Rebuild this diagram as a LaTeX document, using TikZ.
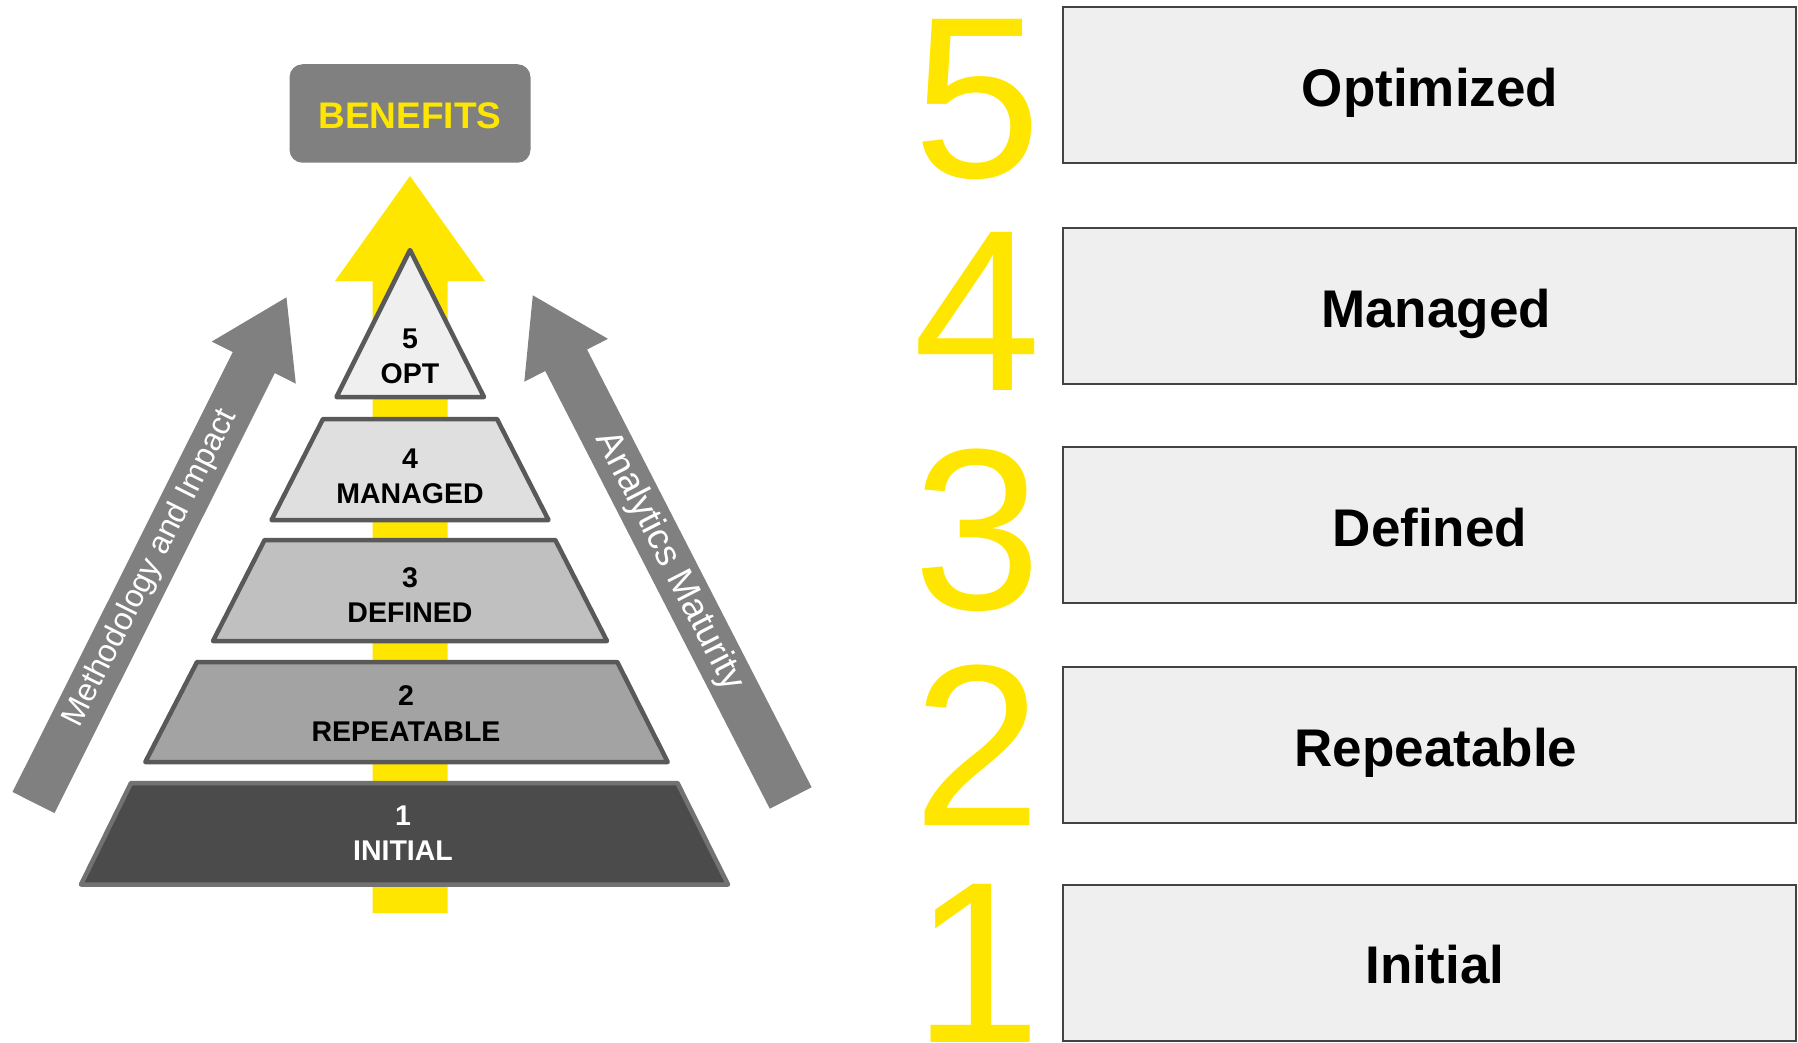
\documentclass[tikz,border=0pt]{standalone}
\usepackage{fontspec}
\setmainfont{Liberation Sans}
\definecolor{ylw}{RGB}{255,230,0}
\definecolor{agray}{RGB}{128,128,128}
\definecolor{edge}{RGB}{89,89,89}
\definecolor{lv5}{RGB}{239,239,239}
\definecolor{lv4}{RGB}{223,223,223}
\definecolor{lv3}{RGB}{192,192,192}
\definecolor{lv2}{RGB}{163,163,163}
\definecolor{lv1}{RGB}{75,75,75}
\definecolor{boxfill}{RGB}{239,239,239}
\definecolor{boxedge}{RGB}{67,67,67}
\begin{document}
\begin{tikzpicture}[x=1pt,y=-1pt,
  layer/.style={draw=edge,line width=4.5pt,line join=round},
  lvtext/.style={anchor=base,inner sep=0pt,font=\fontsize{28.5}{30}\selectfont\bfseries},
  lvbox/.style={draw=boxedge,line width=2pt,fill=boxfill,rectangle,minimum width=733pt,minimum height=156pt,inner sep=0pt},
  boxlabel/.style={anchor=base,inner sep=0pt,font=\fontsize{53}{56}\selectfont\bfseries},
  bignum/.style={anchor=base,inner sep=0pt,text=ylw,font=\fontsize{230}{230}\selectfont},
  arrtext/.style={inner sep=0pt,text=white,anchor=center}]
\useasboundingbox (0,0) rectangle (1798,1043);

% yellow arrow
\fill[ylw] (372.5,913) -- (372.5,281) -- (335,281) -- (410,176) -- (485,281) -- (447.5,281) -- (447.5,913) -- cycle;

% benefits box
\node[fill=agray,rounded corners=13pt,minimum width=241pt,minimum height=98.5pt,inner sep=0pt] (benefits) at (410,113.5) {};
\node[anchor=base,inner sep=0pt,text=ylw,font=\fontsize{37}{40}\selectfont\bfseries] (benefitstext) at (410,128.3) {BENEFITS};

% left gray arrow
\begin{scope}[shift={(33.5,802.5)},rotate=63.4]
  \fill[agray] (0,-23.5) -- (492,-23.5) -- (492,-47) -- (565,0) -- (492,47) -- (492,23.5) -- (0,23.5) -- cycle;
  \node[arrtext,rotate=63.4,font=\fontsize{32}{34}\selectfont] (methtext) at (262,0) {Methodology and Impact};
\end{scope}

% right gray arrow
\begin{scope}[shift={(790.7,798)},rotate=117.16]
  \fill[agray] (0,-23.5) -- (492,-23.5) -- (492,-47) -- (565,0) -- (492,47) -- (492,23.5) -- (0,23.5) -- cycle;
  \node[arrtext,rotate=-62.84,font=\fontsize{36.5}{38}\selectfont] (anatext) at (266,0) {Analytics Maturity};
\end{scope}

% pyramid
\draw[layer,fill=lv5] (410,250) -- (484,397) -- (336.5,397) -- cycle;
\draw[layer,fill=lv4] (323,419) -- (497,419) -- (548.5,520) -- (271.5,520) -- cycle;
\draw[layer,fill=lv3] (264.6,540) -- (555.3,540) -- (607,641) -- (213,641) -- cycle;
\draw[layer,fill=lv2] (197,662) -- (617.3,662) -- (667.7,762) -- (145.3,762) -- cycle;
\draw[layer,draw=edge!85!white,fill=lv1] (131,783) -- (677.5,783) -- (728,884.5) -- (81,884.5) -- cycle;

\node[lvtext] (n5) at (410,348) {5};
\node[lvtext] (t5) at (410,383) {OPT};
\node[lvtext] (n4) at (410,468.5) {4};
\node[lvtext] (t4) at (410,503) {MANAGED};
\node[lvtext] (n3) at (410,587) {3};
\node[lvtext] (t3) at (410,622) {DEFINED};
\node[lvtext] (n2) at (406,705.5) {2};
\node[lvtext] (t2) at (406,741) {REPEATABLE};
\node[lvtext,text=white] (n1) at (403,825.5) {1};
\node[lvtext,text=white] (t1) at (403,860) {INITIAL};

% right column
\node[bignum] (d5) at (977,178) {5};
\node[bignum] (d4) at (977,390) {4};
\node[bignum] (d3) at (977,609) {3};
\node[bignum] (d2) at (977,825) {2};
\node[bignum] (d1) at (977,1042) {1};

\node[lvbox] (b5) at (1429,85.5) {};
\node[lvbox] (b4) at (1429,305.5) {};
\node[lvbox] (b3) at (1429,524.5) {};
\node[lvbox] (b2) at (1429,744.5) {};
\node[lvbox] (b1) at (1429,962.5) {};
\node[boxlabel] (l5) at (1430,107) {Optimized};
\node[boxlabel] (l4) at (1436,327) {Managed};
\node[boxlabel] (l3) at (1430,546) {Defined};
\node[boxlabel] (l2) at (1436,766) {Repeatable};
\node[boxlabel] (l1) at (1435,983.5) {Initial};
\end{tikzpicture}
\end{document}
